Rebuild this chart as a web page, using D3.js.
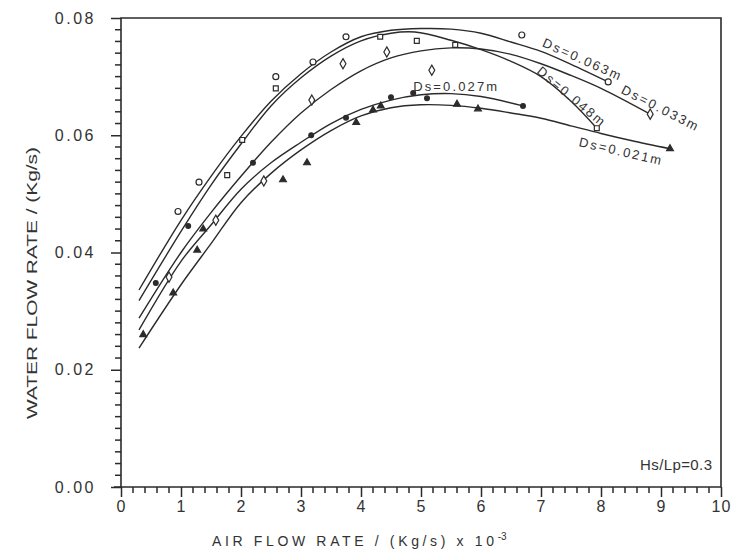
<!DOCTYPE html>
<html>
<head>
<meta charset="utf-8">
<script src="https://cdn.jsdelivr.net/npm/d3@7"></script>
<style>
  body { margin: 0; background: #fff; }
  svg text { font-family: "Liberation Sans", Arial, sans-serif; fill: #333; }
</style>
</head>
<body>
<div id="chart"></div>
<script>
// fitted curves, [air flow (x10^-3 kg/s), water flow (kg/s)]
const fit063 = [[0.3,0.0336],[1.0,0.0455],[1.5,0.053],[2.0,0.0598],[2.5,0.0658],[3.0,0.0705],[3.5,0.0742],[4.0,0.0768],[4.5,0.0779],[5.0,0.0782],[5.5,0.0781],[6.0,0.0774],[6.5,0.0759],[7.0,0.0743],[7.5,0.0721],[8.12,0.0691]];
const fit048 = [[0.3,0.0318],[1.0,0.0436],[1.5,0.0515],[2.0,0.0585],[2.5,0.065],[3.0,0.0698],[3.5,0.0735],[4.0,0.0761],[4.5,0.0774],[4.9,0.0776],[5.5,0.0762],[6.0,0.0746],[6.5,0.0726],[7.0,0.0700],[7.5,0.0658],[7.93,0.0612]];
const fit033 = [[0.3,0.0288],[1.0,0.0400],[1.5,0.0468],[2.0,0.0530],[2.5,0.0588],[3.0,0.0638],[3.5,0.0678],[4.0,0.0710],[4.5,0.0732],[5.0,0.0744],[5.5,0.0749],[6.0,0.0747],[6.5,0.0738],[7.0,0.0722],[7.5,0.0702],[8.0,0.0680],[8.82,0.0636]];
const fit027 = [[0.3,0.0268],[1.0,0.0385],[1.5,0.0447],[2.0,0.0508],[2.5,0.0553],[3.0,0.0588],[3.5,0.0620],[4.0,0.0644],[4.5,0.0660],[5.0,0.0669],[5.5,0.0671],[6.0,0.0666],[6.7,0.0650]];
const fit021 = [[0.3,0.0237],[1.0,0.0345],[1.5,0.0415],[2.0,0.0485],[2.5,0.0535],[3.0,0.0575],[3.5,0.0608],[4.0,0.0633],[4.5,0.0647],[5.0,0.0652],[5.5,0.0651],[6.0,0.0646],[6.5,0.0638],[7.0,0.0629],[7.5,0.0616],[8.0,0.0603],[8.5,0.0591],[9.15,0.0577]];

// measured points
const pts063 = [[0.95,0.047],[1.3,0.052],[2.58,0.070],[3.2,0.0725],[3.75,0.0768],[6.68,0.0771],[8.12,0.0691]];
const pts048 = [[1.77,0.0532],[2.02,0.0592],[2.58,0.068],[4.32,0.0768],[4.93,0.0761],[5.57,0.0754],[7.93,0.0612]];
const pts033 = [[0.8,0.0358],[1.58,0.0455],[2.38,0.0522],[3.18,0.066],[3.70,0.0722],[4.43,0.0742],[5.18,0.0711],[8.82,0.0636]];
const pts027 = [[0.58,0.0348],[1.12,0.0445],[2.2,0.0553],[3.17,0.060],[3.75,0.063],[4.5,0.0665],[4.87,0.0672],[5.1,0.0663],[6.7,0.065]];
const pts021 = [[0.37,0.026],[0.87,0.0331],[1.27,0.0404],[1.37,0.044],[2.7,0.0524],[3.1,0.0553],[3.92,0.0622],[4.2,0.0643],[4.33,0.065],[5.6,0.0653],[5.95,0.0645],[9.15,0.0577]];

const seriesLabels = ["Ds=0.063m", "Ds=0.048m", "Ds=0.033m", "Ds=0.027m", "Ds=0.021m"];
const xTickLabels = [0, 1, 2, 3, 4, 5, 6, 7, 8, 9, 10];
const yTickLabels = [0.00, 0.02, 0.04, 0.06, 0.08];

const width = 734;
const height = 555;
const margin = {top: 18, left: 121, bottom: 68, right: 13};

const svg = d3.select("#chart").append("svg")
    .attr("width", width)
    .attr("height", height);

const xScale = d3.scaleLinear()
    .domain([0, 10])
    .range([margin.left, width - margin.right]);

const yScale = d3.scaleLinear()
    .domain([0, 0.08])
    .range([height - margin.bottom, margin.top]);

const ink = "#2b2b2b";

// frame, bottom line runs a little past the y axis
svg.append("path")
    .attr("d", "M" + (xScale(0) - 7) + "," + yScale(0) + "H" + xScale(10) + "V" + yScale(0.08) + "H" + xScale(0) + "V" + yScale(0))
    .attr("fill", "none")
    .attr("stroke", ink)
    .attr("stroke-width", 1.6);

// minor ticks, drawn by hand from the scales
const minorX = d3.range(0, 51).map(d => d / 5).filter(d => d % 1 !== 0);
const minorY = d3.range(0, 41).map(d => d / 500).filter((d, i) => i % 10 !== 0);

svg.append("g")
    .selectAll("line")
    .data(minorX)
    .enter()
    .append("line")
    .attr("x1", d => xScale(d))
    .attr("x2", d => xScale(d))
    .attr("y1", yScale(0))
    .attr("y2", yScale(0) + 6)
    .attr("stroke", ink)
    .attr("stroke-width", 1.5);

svg.append("g")
    .selectAll("line")
    .data(minorY)
    .enter()
    .append("line")
    .attr("x1", xScale(0) - 6)
    .attr("x2", xScale(0))
    .attr("y1", d => yScale(d))
    .attr("y2", d => yScale(d))
    .attr("stroke", ink)
    .attr("stroke-width", 1.5);

// major ticks + labels
const xAxis = svg.append("g")
    .attr("transform", "translate(0," + yScale(0) + ")")
    .call(d3.axisBottom(xScale).tickValues(xTickLabels).tickSize(10).tickPadding(4).tickFormat(d3.format("d")));

const yAxis = svg.append("g")
    .attr("transform", "translate(" + xScale(0) + ",0)")
    .call(d3.axisLeft(yScale).tickValues(yTickLabels).tickSize(10).tickPadding(15).tickFormat(d3.format(".2f")));

svg.selectAll(".domain").remove();
svg.selectAll(".tick line")
    .attr("stroke", ink)
    .attr("stroke-width", 1.5);

xAxis.selectAll("text")
    .attr("font-size", 16)
    .attr("fill", "#333")
    .style("letter-spacing", "1px");

yAxis.selectAll("text")
    .attr("font-size", 16)
    .attr("fill", "#333")
    .style("letter-spacing", "2.5px");

// axis titles
const xTitle = svg.append("text")
    .attr("x", 212)
    .attr("y", 546)
    .attr("font-size", 14);
xTitle.append("tspan")
    .attr("textLength", 282)
    .attr("lengthAdjust", "spacing")
    .text("AIR FLOW RATE / (Kg/s) x 10");
xTitle.append("tspan")
    .attr("dy", -6)
    .attr("font-size", 10)
    .text("-3");

svg.append("text")
    .attr("transform", "translate(37,283) rotate(-90)")
    .attr("text-anchor", "middle")
    .attr("font-size", 14)
    .attr("textLength", 272)
    .attr("lengthAdjust", "spacingAndGlyphs")
    .text("WATER FLOW RATE / (Kg/s)");

svg.append("text")
    .attr("x", xScale(9.85))
    .attr("y", yScale(0.0029))
    .attr("text-anchor", "end")
    .attr("font-size", 15)
    .attr("textLength", 72)
    .attr("lengthAdjust", "spacing")
    .text("Hs/Lp=0.3");

// fitted curves
const line = d3.line()
    .x(d => xScale(d[0]))
    .y(d => yScale(d[1]))
    .curve(d3.curveCatmullRom.alpha(0.5));

const fits = [fit063, fit048, fit033, fit027, fit021];

svg.append("g")
    .selectAll("path")
    .data(fits)
    .enter()
    .append("path")
    .attr("d", line)
    .attr("fill", "none")
    .attr("stroke", ink)
    .attr("stroke-width", 1.4);

// markers
const markerSets = [
    {pts: pts063, type: d3.symbolCircle, size: 28, filled: false},
    {pts: pts048, type: d3.symbolSquare, size: 24, filled: false},
    {pts: pts033, type: d3.symbolDiamond, size: 30, filled: false},
    {pts: pts027, type: d3.symbolCircle, size: 18, filled: true},
    {pts: pts021, type: d3.symbolTriangle, size: 20, filled: true}
];

markerSets.forEach(function (m) {
    svg.append("g")
        .selectAll("path")
        .data(m.pts)
        .enter()
        .append("path")
        .attr("transform", d => "translate(" + xScale(d[0]) + "," + yScale(d[1]) + ")")
        .attr("d", d3.symbol().type(m.type).size(m.size))
        .attr("fill", m.filled ? ink : "#fff")
        .attr("stroke", ink)
        .attr("stroke-width", 1.2);
});

// curve labels, anchored in data units
const labelSpots = [
    {x: 7.68, y: 0.0730, angle: 24},
    {x: 7.50, y: 0.0667, angle: 40},
    {x: 8.98, y: 0.0647, angle: 27},
    {x: 5.57, y: 0.0684, angle: 0},
    {x: 8.32, y: 0.0573, angle: 13}
];

svg.append("g")
    .selectAll("text")
    .data(seriesLabels)
    .enter()
    .append("text")
    .attr("transform", (d, i) => "translate(" + xScale(labelSpots[i].x) + "," + yScale(labelSpots[i].y) + ") rotate(" + labelSpots[i].angle + ")")
    .attr("text-anchor", "middle")
    .attr("dy", "0.35em")
    .attr("font-size", 13)
    .attr("textLength", 84)
    .attr("lengthAdjust", "spacing")
    .text(d => d);
</script>
</body>
</html>
